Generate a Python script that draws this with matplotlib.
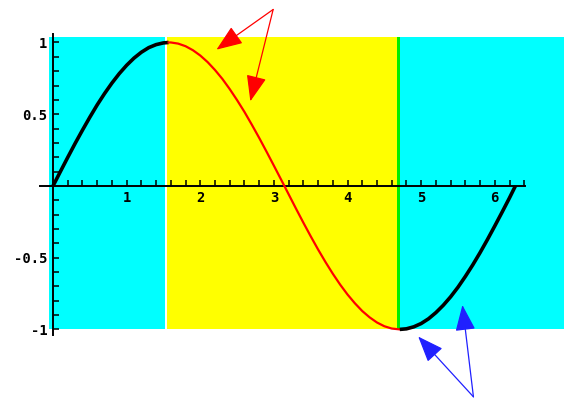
import matplotlib
matplotlib.use("Agg")

import matplotlib.pyplot as plt
import numpy as np

# curve values (black / red / black pieces)
xs = [0.0, 0.1, 0.2, 0.3, 0.4, 0.5, 0.6, 0.7, 0.8, 0.9, 1.0, 1.1, 1.2, 1.3, 1.4, 1.5, 1.57,
      1.6, 1.7, 1.8, 1.9, 2.0, 2.1, 2.2, 2.3, 2.4, 2.5, 2.6, 2.7, 2.8, 2.9, 3.0, 3.1,
      3.2, 3.3, 3.4, 3.5, 3.6, 3.7, 3.8, 3.9, 4.0, 4.1, 4.2, 4.3, 4.4, 4.5, 4.6, 4.71,
      4.8, 4.9, 5.0, 5.1, 5.2, 5.3, 5.4, 5.5, 5.6, 5.7, 5.8, 5.9, 6.0, 6.1, 6.2, 6.28]
ys = [0.000, 0.100, 0.199, 0.296, 0.389, 0.479, 0.565, 0.644, 0.717, 0.783, 0.841, 0.891,
      0.932, 0.964, 0.985, 0.997, 1.000,
      1.000, 0.992, 0.974, 0.946, 0.909, 0.863, 0.808, 0.746, 0.675, 0.598, 0.516, 0.427,
      0.335, 0.239, 0.141, 0.042,
      -0.058, -0.158, -0.256, -0.351, -0.443, -0.530, -0.612, -0.688, -0.757, -0.818,
      -0.872, -0.916, -0.952, -0.978, -0.994, -1.000,
      -0.996, -0.982, -0.959, -0.926, -0.883, -0.832, -0.773, -0.706, -0.631, -0.551,
      -0.465, -0.374, -0.279, -0.182, -0.083, 0.000]
split_lo = 1.57
split_hi = 4.71

# shaded bands: (x0, x1, colour)
bands = [(-0.05, 1.52, "#00ffff"), (1.55, 4.67, "#ffff00"),
         (4.67, 4.71, "#00ee00"), (4.71, 7.0, "#00ffff")]
band_bottom, band_top = -1.0, 1.035

x_major = [1, 2, 3, 4, 5, 6]
x_labels = ["1", "2", "3", "4", "5", "6"]
y_major = [-1, -0.5, 0.5, 1]
y_labels = ["-1", "-0.5", "0.5", "1"]

# arrows: (tail, head)
red_arrows = [((2.99, 1.23), (2.22, 0.95)), ((2.99, 1.23), (2.68, 0.59))]
blue_arrows = [((5.71, -1.47), (4.96, -1.05)), ((5.71, -1.47), (5.56, -0.83))]

fig = plt.figure(figsize=(5.64, 4.04), dpi=100)
ax = fig.add_axes([0, 0, 1, 1])
ax.set_xlim(-0.72, 6.94)
ax.set_ylim(-1.52, 1.296)

for x0, x1, col in bands:
    ax.fill_between([x0, x1], band_bottom, band_top, color=col, lw=0, zorder=1)

xs = np.array(xs)
ys = np.array(ys)
m1 = xs <= split_lo
m2 = (xs >= split_lo) & (xs <= split_hi)
m3 = xs >= split_hi
ax.plot(xs[m1], ys[m1], color="black", lw=2.6, zorder=4, solid_capstyle="butt")
ax.plot(xs[m2], ys[m2], color="red", lw=1.6, zorder=4)
ax.plot(xs[m3], ys[m3], color="black", lw=2.6, zorder=4, solid_capstyle="butt")

for s in ["top", "right"]:
    ax.spines[s].set_visible(False)
ax.spines["left"].set_position(("data", 0))
ax.spines["bottom"].set_position(("data", 0))
ax.spines["left"].set_bounds(-1.04, 1.056)
ax.spines["bottom"].set_bounds(-0.18, 6.41)
for s in ["left", "bottom"]:
    ax.spines[s].set_linewidth(1.4)
    ax.spines[s].set_zorder(3)

mono = "DejaVu Sans Mono"
ax.set_xticks(x_major)
ax.set_xticklabels(x_labels, family=mono, fontsize=10, fontweight="bold")
ax.set_xticks([i * 0.2 for i in range(1, 33) if i % 5], minor=True)
ax.set_yticks(y_major)
ax.set_yticklabels(y_labels, family=mono, fontsize=10, fontweight="bold")
ax.set_yticks([i * 0.1 for i in range(-10, 11) if i % 5], minor=True)
ax.tick_params(which="both", direction="in", width=1.1, length=4, pad=4)

for arrows, col in [(red_arrows, "red"), (blue_arrows, "#2020ff")]:
    for tail, head in arrows:
        ax.annotate("", xy=head, xytext=tail, annotation_clip=False, zorder=5,
                    arrowprops=dict(arrowstyle="-|>,head_length=0.9,head_width=0.35",
                                    mutation_scale=18, color=col, lw=0.9,
                                    shrinkA=0, shrinkB=0))

fig.savefig("out.png", dpi=100)
plt.close(fig)
